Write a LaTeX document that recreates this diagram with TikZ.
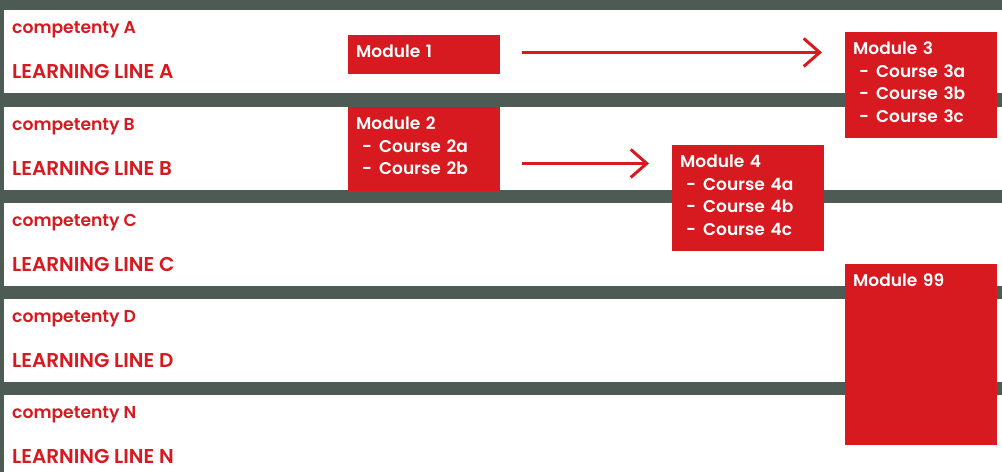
\documentclass[tikz,border=0pt]{standalone}
\usepackage{fontspec}
\setmainfont{Poppins}[BoldFont={Poppins SemiBold}]
\usepackage{tikz}
\usetikzlibrary{positioning,arrows.meta}
\definecolor{slate}{HTML}{4D5B54}
\definecolor{brandred}{HTML}{D71920}
\tikzstyle{band} = [fill=white]
\tikzstyle{comptext} = [anchor=base west, text=brandred, inner sep=0pt,
    font=\fontsize{17.2}{18}\selectfont\bfseries]
\tikzstyle{linetext} = [anchor=base west, text=brandred, inner sep=0pt,
    font=\fontsize{20}{22}\selectfont\bfseries]
\tikzstyle{module} = [rectangle, fill=brandred, text=white, anchor=north west,
    text width=136pt, align=left, inner xsep=8pt, inner ysep=8.5pt,
    text height=14pt, text depth=7.5pt, font=\fontsize{17}{22.5}\selectfont\bfseries]
\tikzstyle{flow} = [draw=brandred, line width=3pt,
    -{Straight Barb[length=16pt,width=28pt]}, shorten <=22pt, shorten >=23pt]
\newcommand{\crs}[1]{\hspace*{6pt}-\hspace{7pt}#1}

\begin{document}
\begin{tikzpicture}[x=1pt,y=-1pt]
  \useasboundingbox (0,0) rectangle (1002,472);
  \fill[slate] (0,0) rectangle (1002,472);
  % Place bands
  \foreach \letter/\ytop in {A/10,B/107,C/203,D/299,N/395}{
    \fill[band] (4,\ytop) rectangle (1002,\ytop+83);
    \node[comptext] (comp\letter) at (12,\ytop+23) {competenty \letter};
    \node[linetext] (line\letter) at (12,\ytop+68) {LEARNING LINE \letter};
  }
  % Place modules
  \node[module] (mod1) at (348,35) {Module 1};
  \node[module, text depth=52.5pt] (mod2) at (348,107) {Module 2\\ \crs{Course 2a}\\ \crs{Course 2b}};
  \node[module, text depth=75pt] (mod3) at (845,32) {Module 3\\ \crs{Course 3a}\\ \crs{Course 3b}\\ \crs{Course 3c}};
  \node[module, text depth=75pt] (mod4) at (672,145) {Module 4\\ \crs{Course 4a}\\ \crs{Course 4b}\\ \crs{Course 4c}};
  \node[module, text depth=150pt] (mod99) at (845,264) {Module 99};
  % Draw edges
  \draw[flow] ([yshift=2pt]mod1.east) -- ([yshift=2pt]mod1.east -| mod3.west);
  \draw[flow] ([yshift=-14.5pt]mod2.east) -- ([yshift=-14.5pt]mod2.east -| mod4.west);
\end{tikzpicture}
\end{document}
